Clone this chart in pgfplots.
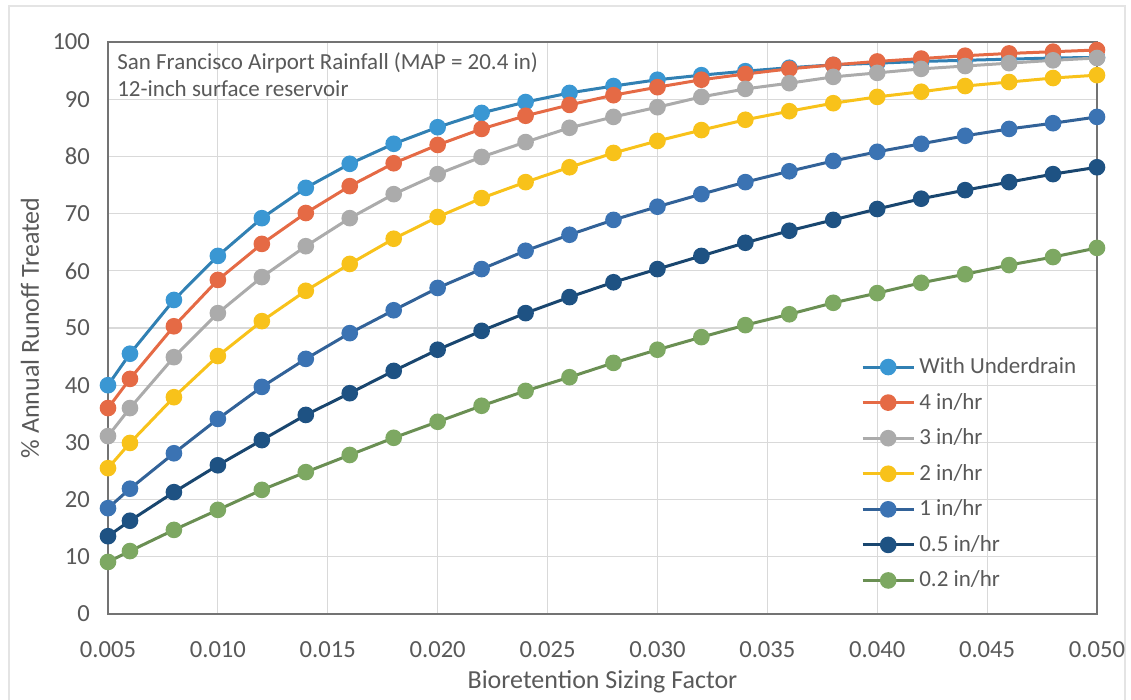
\documentclass[border=0pt]{standalone}
\usepackage{pgfplots}
\pgfplotsset{compat=1.18}
\usepackage{fontspec}
\setmainfont{Carlito}
\definecolor{txt}{HTML}{595959}
\definecolor{gridc}{HTML}{D9D9D9}
\definecolor{cUD}{HTML}{3A97D3}
\definecolor{cF}{HTML}{E56A45}
\definecolor{cT}{HTML}{ABABAB}
\definecolor{cW}{HTML}{F8C21A}
\definecolor{cO}{HTML}{3B73B3}
\definecolor{cH}{HTML}{1E5283}
\definecolor{cG}{HTML}{7DA862}

\pgfplotstableread{
x ud f4 f3 f2 f1 f05 f02
0.005 40.0 36.0 31.1 25.5 18.5 13.6 9.1
0.006 45.5 41.1 36.0 29.9 21.9 16.3 11.0
0.008 54.9 50.3 44.9 37.9 28.1 21.3 14.7
0.010 62.6 58.4 52.6 45.1 34.1 26.0 18.2
0.012 69.2 64.7 58.9 51.2 39.7 30.4 21.7
0.014 74.5 70.1 64.3 56.5 44.6 34.8 24.8
0.016 78.7 74.8 69.2 61.2 49.1 38.6 27.8
0.018 82.2 78.8 73.4 65.6 53.1 42.5 30.8
0.020 85.1 82.0 76.9 69.4 57.0 46.2 33.6
0.022 87.6 84.8 79.9 72.7 60.3 49.5 36.4
0.024 89.5 87.1 82.5 75.5 63.5 52.6 39.0
0.026 91.1 89.0 85.0 78.1 66.3 55.4 41.4
0.028 92.3 90.7 86.9 80.6 68.9 58.0 43.9
0.030 93.4 92.1 88.6 82.7 71.2 60.3 46.2
0.032 94.2 93.4 90.4 84.6 73.4 62.6 48.4
0.034 94.9 94.4 91.8 86.4 75.5 64.9 50.5
0.036 95.5 95.3 92.8 87.9 77.4 67.0 52.4
0.038 96.0 96.0 93.9 89.3 79.2 68.9 54.4
0.040 96.3 96.6 94.6 90.4 80.8 70.8 56.1
0.042 96.6 97.1 95.3 91.3 82.2 72.6 57.9
0.044 96.8 97.6 95.8 92.3 83.6 74.1 59.4
0.046 97.0 98.0 96.3 93.0 84.8 75.5 61.0
0.048 97.2 98.3 96.8 93.7 85.8 76.9 62.4
0.050 97.3 98.6 97.2 94.2 86.9 78.1 64.0
}\datatable

\begin{document}
\begin{tikzpicture}
\useasboundingbox (-54pt,-43pt) rectangle (511.5pt,307pt);
\draw[gridc!70, line width=0.6pt] (-49.5pt,-60pt) -- (-49.5pt,304pt) -- (508.5pt,304pt) -- (508.5pt,-60pt);
\begin{axis}[
  at={(0,0)}, anchor=south west,
  scale only axis, width=494.5pt, height=286pt,
  xmin=0.005, xmax=0.050, ymin=0, ymax=100,
  xtick={0.005,0.010,0.015,0.020,0.025,0.030,0.035,0.040,0.045,0.050},
  ytick={0,10,...,100},
  xticklabels={0.005,0.010,0.015,0.020,0.025,0.030,0.035,0.040,0.045,0.050},
  scaled x ticks=false,
  /pgf/number format/assume math mode=true,
  tick label style={font=\fontsize{12.3}{14}\selectfont, text=txt},
  xticklabel style={yshift=-10pt},
  yticklabel style={xshift=-5.5pt},
  grid=major, major grid style={gridc, line width=0.6pt},
  axis line style={draw=black!55, line width=0.8pt},
  tick style={draw=none},
  every axis plot/.append style={line width=1.5pt, mark=*, mark size=3.4pt},
  legend cell align=left,
  legend style={at={(0.755,0.463)}, anchor=north west, draw=none, fill=none,
    font=\fontsize{11.5}{13}\selectfont, text=txt, row sep=4.3pt},
  legend image code/.code={\draw[#1, mark repeat=2, mark phase=2] plot coordinates {(0cm,0cm) (0.45cm,0cm) (0.9cm,0cm)};},
]
\addplot[color=cUD!85!black, mark options={fill=cUD, draw=cUD}] table[x=x,y=ud] {\datatable};
\addlegendentry{With Underdrain}
\addplot[color=cF, mark options={fill=cF, draw=cF}] table[x=x,y=f4] {\datatable};
\addlegendentry{4 in/hr}
\addplot[color=cT, mark options={fill=cT, draw=cT}] table[x=x,y=f3] {\datatable};
\addlegendentry{3 in/hr}
\addplot[color=cW, mark options={fill=cW, draw=cW}] table[x=x,y=f2] {\datatable};
\addlegendentry{2 in/hr}
\addplot[color=cO!85!black, mark options={fill=cO, draw=cO}] table[x=x,y=f1] {\datatable};
\addlegendentry{1 in/hr}
\addplot[color=cH!85!black, mark options={fill=cH, draw=cH}] table[x=x,y=f05] {\datatable};
\addlegendentry{0.5 in/hr}
\addplot[color=cG!85!black, mark options={fill=cG, draw=cG}] table[x=x,y=f02] {\datatable};
\addlegendentry{0.2 in/hr}
\node[anchor=north west, align=left, text=txt, font=\fontsize{11.5}{13.5}\selectfont, inner sep=0pt]
  at (rel axis cs:0.009,0.982) {San Francisco Airport Rainfall (MAP = 20.4 in)\\12-inch surface reservoir};
\end{axis}
\node[text=txt, font=\fontsize{13}{15}\selectfont] at (247.25pt,-34pt) {Bioretention Sizing Factor};
\node[rotate=90, text=txt, font=\fontsize{13}{15}\selectfont] at (-39pt,143pt) {\% Annual Runoff Treated};
\end{tikzpicture}
\end{document}
